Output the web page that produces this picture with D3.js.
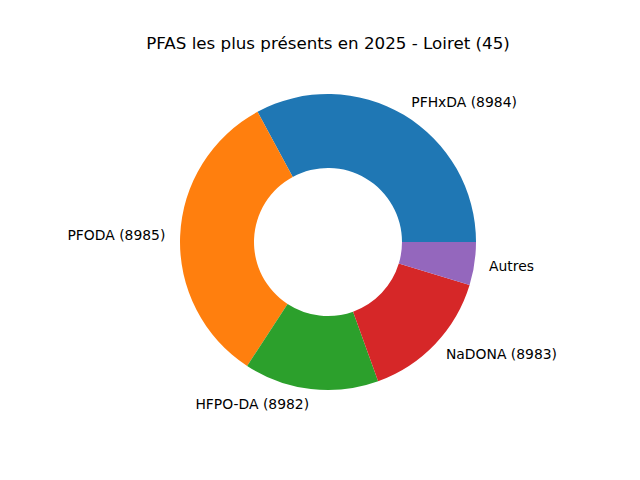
<!DOCTYPE html>
<html><head><meta charset="utf-8">
<script src="https://cdn.jsdelivr.net/npm/d3@7"></script>
<style>body{margin:0;background:#fff}</style></head>
<body><svg id="c" width="640" height="480"></svg>
<script>
const categories = ["PFHxDA (8984)","PFODA (8985)","HFPO-DA (8982)","NaDONA (8983)","Autres"];
const values = [32.9, 32.9, 14.7, 14.8, 4.7];
const colors = ["#1f77b4","#ff7f0e","#2ca02c","#d62728","#9467bd"];
const title = "PFAS les plus présents en 2025 - Loiret (45)";

const svg = d3.select("#c");
const cx = 328, cy = 242, R = 148;
svg.append("text").attr("x", 328).attr("y", 49).attr("text-anchor","middle")
  .attr("font-family","DejaVu Sans").attr("font-size",16.7).text(title);
const pie = d3.pie().sort(null).value(d=>d).startAngle(Math.PI/2).endAngle(Math.PI/2-2*Math.PI);
const arcs = pie(values);
const arc = d3.arc().innerRadius(R*0.5).outerRadius(R);
const g = svg.append("g").attr("transform",`translate(${cx},${cy})`);
g.selectAll("path").data(arcs).join("path").attr("d",arc).attr("fill",(d,i)=>colors[i]);
g.selectAll("text").data(arcs).join("text")
  .each(function(d,i){
    const a=(d.startAngle+d.endAngle)/2;
    const x=R*1.1*Math.sin(a), y=-R*1.1*Math.cos(a);
    d3.select(this).attr("x",x).attr("y",y).attr("dy","0.35em")
      .attr("text-anchor", x>0?"start":"end").text(categories[i]);
  })
  .attr("font-family","DejaVu Sans").attr("font-size",13.9);
</script></body></html>
